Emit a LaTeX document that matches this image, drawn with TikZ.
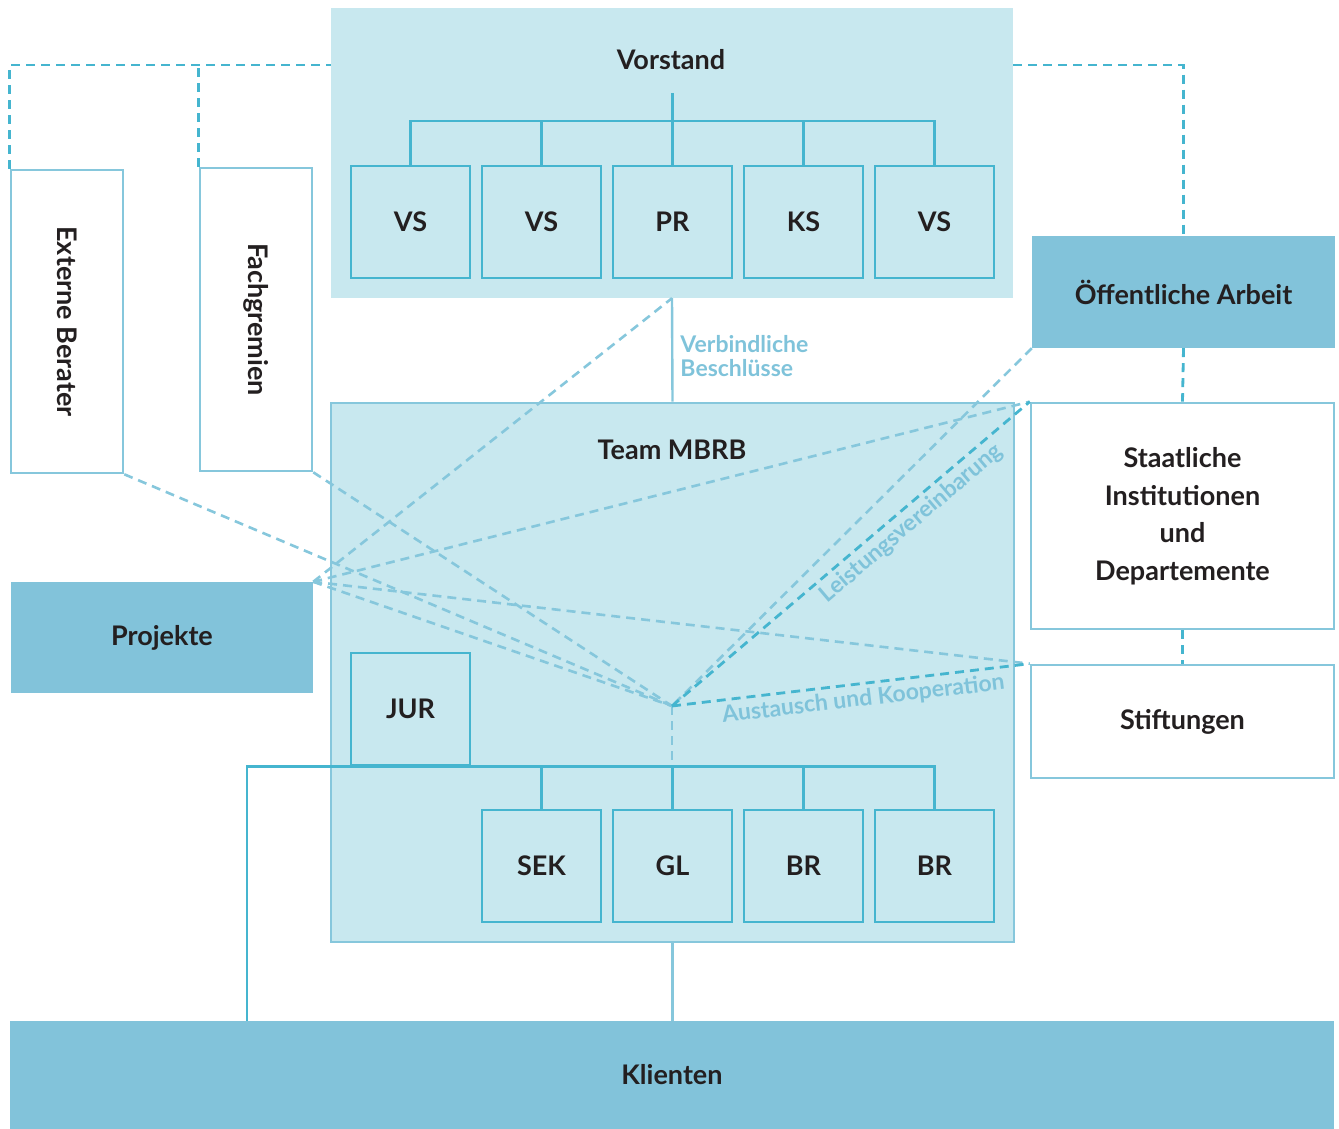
\documentclass[tikz,border=0pt]{standalone}
\usepackage{fontspec}
\setmainfont{Lato}
\usetikzlibrary{calc}
\definecolor{ink}{HTML}{231F20}
\definecolor{pale}{HTML}{C8E8EF}
\definecolor{midblue}{HTML}{82C3DA}
\definecolor{tealdk}{HTML}{45B5CF}
\definecolor{rim}{HTML}{86C7DC}
\definecolor{lbl}{HTML}{7FC3DA}
\tikzset{
  unit/.style={draw=tealdk,fill=pale,line width=2.6pt,inner sep=0pt,
    minimum width=119pt,minimum height=112pt,lab},
  panel/.style={draw=rim,fill=white,line width=2.6pt,inner sep=0pt},
  block/.style={fill=midblue,inner sep=0pt,lab},
  lab/.style={font=\fontsize{27}{37.5}\selectfont\bfseries,text=ink,align=center},
  note/.style={font=\fontsize{23}{24.5}\selectfont\bfseries,text=lbl,inner sep=0pt},
  tree/.style={tealdk,line width=2.6pt},
  tie/.style={rim,line width=2.4pt},
  dashlink/.style={tealdk,line width=2.8pt,dash pattern=on 9pt off 6pt},
  softlink/.style={rim,line width=2.6pt,dash pattern=on 9pt off 6pt},
}

\begin{document}
\begin{tikzpicture}[x=1pt,y=-1pt]
\useasboundingbox (0,0) rectangle (1339,1129);

% ---------------------------------------------------------------- Vorstand
\node[fill=pale,inner sep=0pt,minimum width=682pt,minimum height=290pt] (vor) at (672,153) {};
\node[lab] (vortitle) at (671,60) {Vorstand};
\node[unit] (vs1) at (410.5,222) {VS};
\node[unit] (vs2) at (541.5,222) {VS};
\node[unit] (pr)  at (672.5,222) {PR};
\node[unit] (ks)  at (803.5,222) {KS};
\node[unit] (vs3) at (934.5,222) {VS};
\draw[tree] (vs1.north) |- (vs3.north |- 0,121) -- (vs3.north);
\foreach \n in {vs2,pr,ks} {\draw[tree] (\n.north) -- (\n.north |- 0,121);}
\draw[tree] (pr.north |- 0,93) -- (pr.north |- 0,121);

% ---------------------------------------------------------------- side panels
\node[panel,minimum width=112pt,minimum height=303pt] (ext) at (67,321.5) {};
\node[lab,rotate=-90] (extlab) at (ext) {Externe Berater};
\node[panel,minimum width=112pt,minimum height=303pt] (fach) at (256,319.5) {};
\node[lab,rotate=-90] (fachlab) at (fach) {Fachgremien};
\node[block,minimum width=302pt,minimum height=111pt] (proj) at (162,637.5) {Projekte};

\node[block,minimum width=303pt,minimum height=112pt] (oeff) at (1183.5,292) {Öffentliche Arbeit};
\node[panel,lab,minimum width=303pt,minimum height=226pt] (staat) at (1182.5,516)
  {Staatliche\\Institutionen\\und\\Departemente};
\node[panel,lab,minimum width=303pt,minimum height=113pt] (stift) at (1182.5,721.5) {Stiftungen};

\draw[dashlink] (ext.north west) |- (vor.west |- 0,65);
\draw[dashlink] (fach.north west) -- (fach.north west |- 0,65);
\draw[dashlink] (vor.east |- 0,65) -| (oeff.north);
\draw[dashlink] (oeff.south) -- (staat.north);
\draw[dashlink] (staat.south) -- (stift.north);

% ---------------------------------------------------------------- Team MBRB
\node[draw=rim,fill=pale,line width=2.6pt,inner sep=0pt,minimum width=683pt,minimum height=539pt] (team) at (672.5,672.5) {};
\node[lab] (teamtitle) at (672,450) {Team MBRB};
\draw[tie] (vor.south) -- (team.north)
  node[note,pos=0.56,anchor=west,align=left,xshift=7pt] {Verbindliche\\Beschlüsse};

% ---------------------------------------------------------------- Klienten
\node[block,minimum width=1324pt,minimum height=108pt] (klient) at (672,1075) {Klienten};
\draw[tie] (team.south) -- (klient.north -| team.south);

% ---------------------------------------------------------------- web of links
\coordinate (hub) at (672,706);
\draw[softlink] (ext.south east) -- (hub);
\draw[softlink] (fach.south east) -- (hub);
\draw[softlink] (proj.north east) -- (hub);
\draw[softlink] (proj.north east) -- (vor.south);
\draw[softlink] (proj.north east) -- (staat.north west);
\draw[softlink] (proj.north east) -- (stift.north west);
\draw[softlink] (oeff.south west) -- (hub);
\draw[softlink] (hub) -- (hub |- 0,765);
\draw[dashlink] (hub) -- (staat.north west)
  node[note,sloped,below,pos=0.64,yshift=-4pt] {Leistungsvereinbarung};
\draw[dashlink] (hub) -- (stift.north west)
  node[note,sloped,below,pos=0.53,yshift=-4pt] {Austausch und Kooperation};

% ---------------------------------------------------------------- team units
\node[unit] (jur) at (410.5,709) {JUR};
\node[unit] (sek) at (541.5,866) {SEK};
\node[unit] (gl)  at (672.5,866) {GL};
\node[unit] (br1) at (803.5,866) {BR};
\node[unit] (br2) at (934.5,866) {BR};
\draw[tree] (klient.north -| 247,0) |- (br2.north |- jur.south) -- (br2.north);
\foreach \n in {sek,gl,br1} {\draw[tree] (\n.north) -- (\n.north |- jur.south);}

\end{tikzpicture}
\end{document}
